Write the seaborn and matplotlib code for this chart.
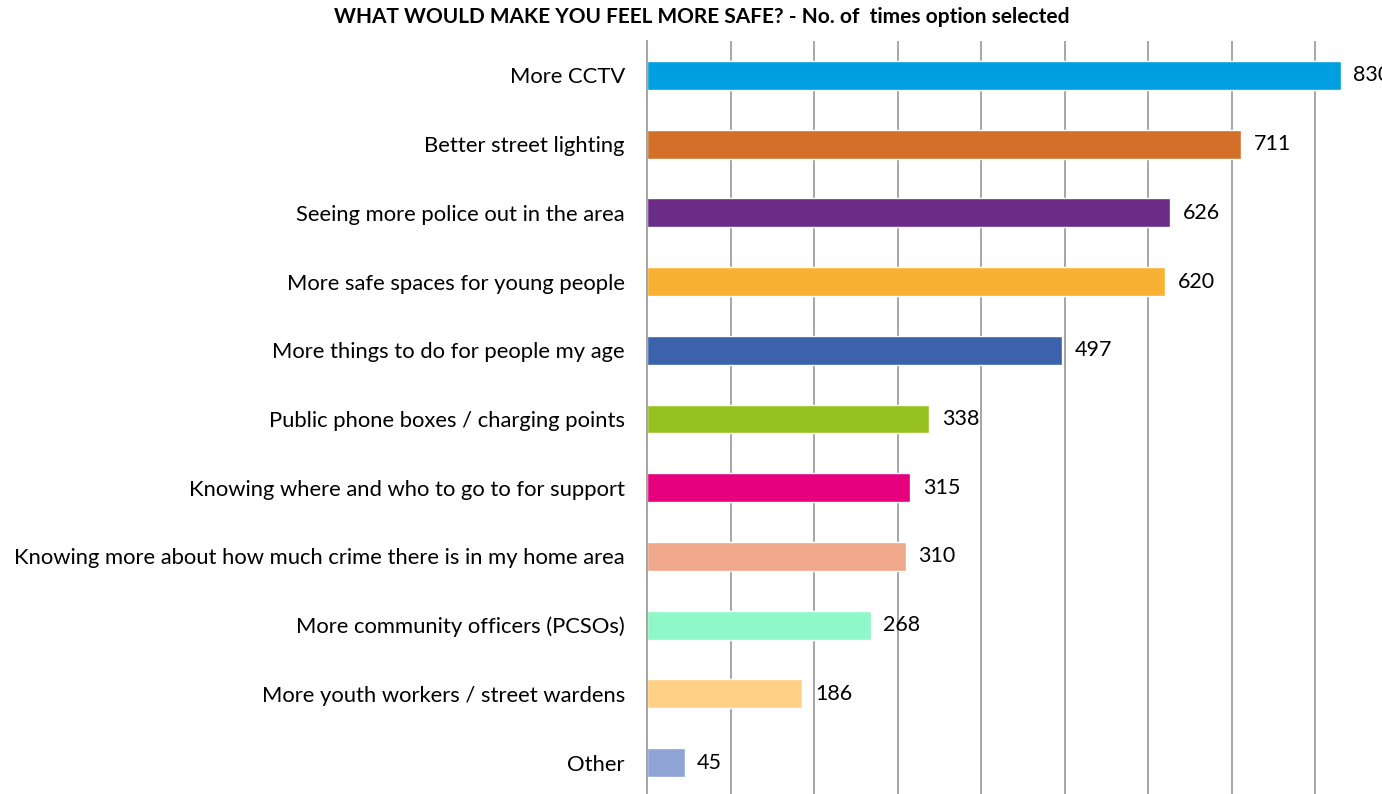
import matplotlib
matplotlib.use("Agg")
import matplotlib.pyplot as plt
import seaborn as sns
import pandas as pd

categories = [
    "More CCTV",
    "Better street lighting",
    "Seeing more police out in the area",
    "More safe spaces for young people",
    "More things to do for people my age",
    "Public phone boxes / charging points",
    "Knowing where and who to go to for support",
    "Knowing more about how much crime there is in my home area",
    "More community officers (PCSOs)",
    "More youth workers / street wardens",
    "Other",
]
counts = [830, 711, 626, 620, 497, 338, 315, 310, 268, 186, 45]
colors = [
    "#009FE0", "#D2702A", "#6A2C86", "#F8B133", "#3B62AA", "#96C11F",
    "#E6007E", "#F0A88A", "#8FF8C8", "#FFD085", "#8FA3D4",
]
title = "WHAT WOULD MAKE YOU FEEL MORE SAFE? - No. of  times option selected"

df = pd.DataFrame({"option": categories, "count": counts})

sns.set_theme(style="white")
plt.rcParams["font.family"] = ["Lato", "DejaVu Sans"]

fig = plt.figure(figsize=(13.82, 7.94), dpi=100)
ax = fig.add_axes([647 / 1382, -3 / 794, 752 / 1382, 756 / 794])

sns.barplot(
    data=df, x="count", y="option", hue="option", palette=colors,
    order=categories, hue_order=categories, orient="h", width=0.42,
    legend=False, ax=ax, saturation=1,
)

ax.set_xlim(0, 900)
ax.set_ylim(len(categories) - 0.5, -0.5)
ax.set_xticks(range(0, 901, 100))
ax.set_xticklabels([])
ax.grid(axis="x", color="#A6A6A6", linewidth=1.4)
ax.set_axisbelow(True)
for side in ["top", "right", "bottom"]:
    ax.spines[side].set_visible(False)
ax.spines["left"].set_color("#A6A6A6")
ax.spines["left"].set_linewidth(1.4)
ax.set_xlabel("")
ax.set_ylabel("")
ax.tick_params(axis="y", length=0, pad=16, labelsize=15.8, labelcolor="#000000")
ax.tick_params(axis="x", length=0)

for container in ax.containers:
    ax.bar_label(container, fmt="%d", padding=9, fontsize=15.5, color="#000000")

fig.text(0.508, 0.978, title, ha="center", va="center", fontsize=15,
         fontweight="bold", color="#000000")

fig.savefig("out.png", dpi=100)
